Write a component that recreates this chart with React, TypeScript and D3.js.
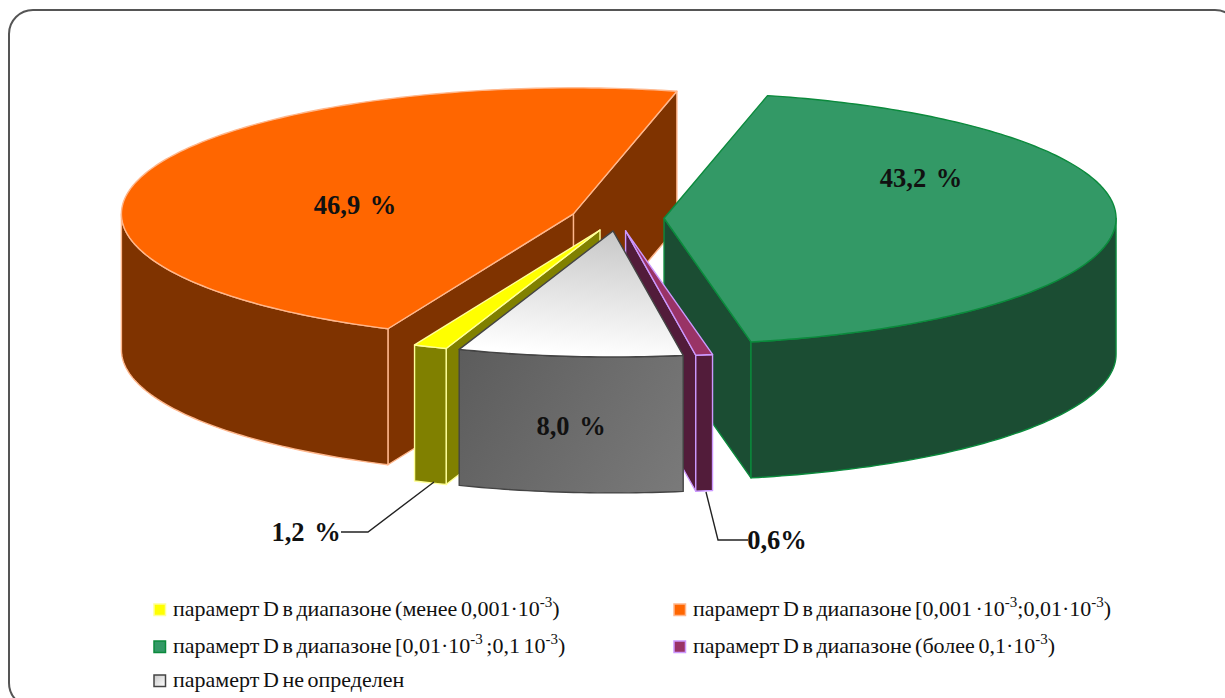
import React from "react";
import * as d3 from "d3";

// Share of samples per range of parameter D, clockwise from the yellow slice.
const sliceNames = ["below", "low", "mid", "above", "unknown"];
const sliceValues = [1.2, 46.9, 43.2, 0.6, 8.0];
const labelSuffixes = [" %", " %", " %", "%", " %"];

const topColors = ["#ffff00", "#ff6600", "#339966", "#993366", "url(#greyTop)"];
const wallColors = ["#808000", "#7f3300", "#1b4d33", "#521c3a", "url(#greyWall)"];
const edgeColors = ["#ffff99", "#ffb78c", "#0b8a3c", "#cc99ff", "#444444"];
const swatchColors = ["#ffff00", "#ff6600", "#339966", "#993366", "url(#greySwatch)"];
const swatchEdges = ["#ffff99", "#ffb78c", "#0b8a3c", "#cc99ff", "#444444"];
const drawOrder = [1, 2, 0, 3, 4];

// Legend text runs; the second element of each pair is a superscript flag.
const legendBelow: [string, boolean][] = [["парамерт D в диапазоне (менее 0,001·10", false], ["-3", true], [")", false]];
const legendLow: [string, boolean][] = [["парамерт D в диапазоне [0,001 ·10", false], ["-3", true], [";0,01·10", false], ["-3", true], [")", false]];
const legendMid: [string, boolean][] = [["парамерт D в диапазоне [0,01·10", false], ["-3", true], [" ;0,1 10", false], ["-3", true], [")", false]];
const legendAbove: [string, boolean][] = [["парамерт D в диапазоне (более 0,1·10", false], ["-3", true], [")", false]];
const legendUnknown: [string, boolean][] = [["парамерт D не определен", false]];
const legendRuns = [legendBelow, legendLow, legendMid, legendAbove, legendUnknown];

const WIDTH = 1225;
const HEIGHT = 698;
const CENTER_X = 617.5;
const CENTER_Y = 218;
const RADIUS_X = 452;
const RADIUS_Y = 126;
const DEPTH = 136;
const EXPLODE = 0.103;
const START = (199.9 * Math.PI) / 180;
const SERIF = "'Liberation Serif', serif";
const LEGEND_SIZE = 22;
const SUPER_SIZE = 15;

const px = d3.scaleLinear().domain([-1, 1]).range([CENTER_X - RADIUS_X, CENTER_X + RADIUS_X]);
const py = d3.scaleLinear().domain([-1, 1]).range([CENTER_Y - RADIUS_Y, CENTER_Y + RADIUS_Y]);
const outline = d3.line<[number, number]>().curve(d3.curveLinear);

const pieLayout = d3.pie<number>().sort(null).startAngle(START).endAngle(START + 2 * Math.PI);
const arcs = pieLayout(sliceValues);

type Pt = [number, number];

// Projects a polar position on the pie plane (angle clockwise from the back) to the page.
function project(angle: number, r: number, offX: number, offY: number, drop = 0): Pt {
  return [px(offX + r * Math.sin(angle)), py(offY - r * Math.cos(angle)) + drop];
}

function closed(points: Pt[]) {
  return outline(points) + "Z";
}

function Slice({ index }: { index: number }) {
  const { startAngle: a0, endAngle: a1 } = arcs[index];
  const mid = (a0 + a1) / 2;
  const ox = EXPLODE * Math.sin(mid);
  const oy = -EXPLODE * Math.cos(mid);
  const steps = Math.max(2, Math.ceil(((a1 - a0) * 180) / Math.PI));
  const rim = d3.range(steps + 1).map((i) => a0 + ((a1 - a0) * i) / steps);
  const apex = project(0, 0, ox, oy);
  const top = [apex, ...rim.map((a) => project(a, 1, ox, oy))];

  const cutWall = (a: number) => {
    const p = project(a, 1, ox, oy);
    const q: Pt[] = [apex, p, [p[0], p[1] + DEPTH], [apex[0], apex[1] + DEPTH]];
    return closed(q);
  };

  // Only the part of the rim facing the viewer gets an outer wall.
  const frontRanges: [number, number][] = [
    [Math.PI / 2, (3 * Math.PI) / 2],
    [Math.PI / 2 + 2 * Math.PI, (3 * Math.PI) / 2 + 2 * Math.PI],
  ];
  const walls: string[] = [];
  if (Math.sin(a1) > 0) walls.push(cutWall(a1));
  if (Math.sin(a0) < 0) walls.push(cutWall(a0));
  for (const [lo, hi] of frontRanges) {
    const from = Math.max(a0, lo);
    const to = Math.min(a1, hi);
    if (to > from) {
      const n = Math.max(2, Math.ceil(((to - from) * 180) / Math.PI));
      const seg = d3.range(n + 1).map((i) => from + ((to - from) * i) / n);
      const upper = seg.map((a) => project(a, 1, ox, oy));
      const lower = seg.map((a) => project(a, 1, ox, oy, DEPTH)).reverse();
      walls.push(closed([...upper, ...lower]));
    }
  }

  return (
    <g data-slice={sliceNames[index]} stroke={edgeColors[index]} strokeWidth={1.4} strokeLinejoin="round">
      {walls.map((d, i) => (
        <path key={i} d={d} fill={wallColors[index]} />
      ))}
      <path d={closed(top)} fill={topColors[index]} />
    </g>
  );
}

function ValueLabel({ index, x, y }: { index: number; x: number; y: number }) {
  const text = sliceValues[index].toFixed(1).replace(".", ",") + labelSuffixes[index];
  return (
    <text x={x} y={y} textAnchor="middle" fontFamily={SERIF} fontWeight="bold" fontSize={26.5} fill="#111" xmlSpace="preserve" wordSpacing={3}>
      {text}
    </text>
  );
}

function LegendEntry({ index, x, y }: { index: number; x: number; y: number }) {
  return (
    <g>
      <rect x={x} y={y - 12} width={11.5} height={11.5} fill={swatchColors[index]} stroke={swatchEdges[index]} strokeWidth={1.5} />
      <text x={x + 19} y={y} fontFamily={SERIF} fontSize={LEGEND_SIZE} fill="#111" xmlSpace="preserve" wordSpacing={-1.9}>
        {legendRuns[index].map(([run, sup], i) => (
          <tspan key={i} dy={sup ? -9 : i > 0 && legendRuns[index][i - 1][1] ? 9 : 0} fontSize={sup ? SUPER_SIZE : LEGEND_SIZE}>
            {run}
          </tspan>
        ))}
      </text>
    </g>
  );
}

export default function App() {
  return (
    <svg width={WIDTH} height={HEIGHT} style={{ position: "fixed", left: 0, top: 0, display: "block", background: "#fff" }}>
      <defs>
        <linearGradient id="greyTop" gradientUnits="userSpaceOnUse" x1={600} y1={232} x2={590} y2={356}>
          <stop offset="0" stopColor="#c8c8c8" />
          <stop offset="1" stopColor="#ffffff" />
        </linearGradient>
        <linearGradient id="greyWall" gradientUnits="userSpaceOnUse" x1={458} y1={350} x2={685} y2={490}>
          <stop offset="0" stopColor="#5c5c5c" />
          <stop offset="1" stopColor="#7a7a7a" />
        </linearGradient>
        <linearGradient id="greySwatch" x1="0" y1="0" x2="1" y2="1">
          <stop offset="0" stopColor="#c8c8c8" />
          <stop offset="1" stopColor="#ffffff" />
        </linearGradient>
      </defs>

      <rect x={9} y={10} width={1230} height={697} rx={24} ry={24} fill="#fff" stroke="#555" strokeWidth={2} />

      {drawOrder.map((i) => (
        <Slice key={i} index={i} />
      ))}

      <path d="M341,532H368L434,482" fill="none" stroke="#222" strokeWidth={1.4} />
      <path d="M748,540H718L706,492" fill="none" stroke="#222" strokeWidth={1.4} />

      <ValueLabel index={1} x={355} y={214} />
      <ValueLabel index={2} x={921} y={187} />
      <ValueLabel index={4} x={571} y={435} />
      <ValueLabel index={0} x={306} y={541} />
      <ValueLabel index={3} x={777} y={549} />

      <LegendEntry index={0} x={154} y={616} />
      <LegendEntry index={1} x={674} y={616} />
      <LegendEntry index={2} x={154} y={653} />
      <LegendEntry index={3} x={674} y={653} />
      <LegendEntry index={4} x={154} y={687} />
    </svg>
  );
}
